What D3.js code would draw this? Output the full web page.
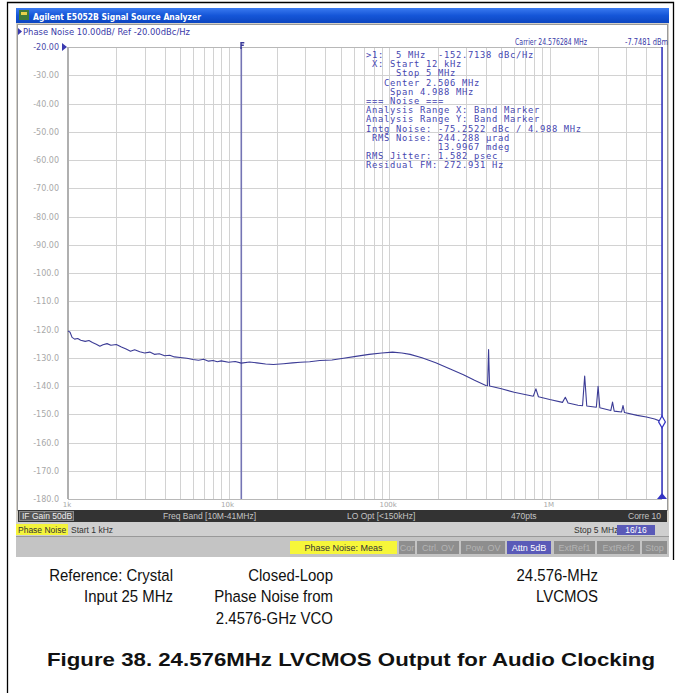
<!DOCTYPE html>
<html>
<head>
<meta charset="utf-8">
<script src="https://cdn.jsdelivr.net/npm/d3@7"></script>
<style>
body { margin: 0; background: #fff; }
svg { display: block; }
</style>
</head>
<body>
<svg id="chart" width="677" height="693"></svg>
<script>
// ---- data ----
var freqs = [1000, 1030, 1060, 1100, 1150, 1200, 1280, 1350, 1420, 1500, 1580, 1650, 1750, 1850, 2000,
  2150, 2300, 2450, 2600, 2800, 3000, 3230, 3450, 3700, 4000, 4300, 4600, 5000, 5500, 6000, 6500,
  7000, 7500, 8000, 8500, 9000, 10000, 11000, 12000, 13500, 15000, 17000, 19000, 22000, 25000,
  28000, 32000, 37000, 44000, 52000, 62000, 75000, 90000, 105000, 120000, 135000, 160000, 195000,
  240000, 290000, 340000, 400000, 410000, 416000, 422000, 500000, 600000, 700000, 790000, 820000,
  850000, 1000000, 1200000, 1250000, 1300000, 1500000, 1600000, 1650000, 1700000, 1950000, 2000000,
  2050000, 2400000, 2460000, 2520000, 2800000, 2860000, 2920000, 3500000, 4000000, 4500000, 5000000];
var noise = [-120.5, -121.0, -122.8, -123.4, -123.2, -123.8, -124.2, -123.9, -124.6, -125.2, -125.9, -125.4, -125.0, -125.6, -125.3,
  -126.2, -126.9, -127.7, -127.2, -127.9, -128.3, -128.0, -128.8, -128.6, -129.3, -129.1, -129.7, -129.9, -130.2, -130.6, -130.9,
  -130.5, -131.2, -131.0, -131.4, -131.1, -131.6, -131.3, -131.9, -131.5, -131.8, -132.2, -132.4, -132.1, -131.8,
  -131.6, -131.4, -131.0, -130.8, -130.2, -129.5, -128.8, -128.3, -128.0, -128.3, -128.8, -130.0, -131.8,
  -134.0, -136.0, -138.0, -139.8, -139.9, -127.1, -140.0, -141.0, -142.2, -143.0, -143.6, -141.0,
  -143.8, -144.8, -145.8, -144.0, -146.0, -146.8, -147.0, -136.5, -147.1, -147.5, -140.1,
  -147.7, -148.7, -145.7, -148.9, -149.2, -146.9, -149.4, -150.4, -151.0, -151.7, -152.7];

var yTicks = [-20, -30, -40, -50, -60, -70, -80, -90, -100, -110, -120, -130, -140, -150, -160, -170, -180];
var yTickLabels = ["-20.00", "-30.00", "-40.00", "-50.00", "-60.00", "-70.00", "-80.00", "-90.00",
  "-100.0", "-110.0", "-120.0", "-130.0", "-140.0", "-150.0", "-160.0", "-170.0", "-180.0"];
var xTicks = [1e3, 1e4, 1e5, 1e6];
var xTickLabels = ["1k", "10k", "100k", "1M"];

var bandStart = 12e3, bandStop = 5e6;
var markerFreq = 5e6, markerValue = -152.7138;

var markerText = [
  ">1:  5 MHz  -152.7138 dBc/Hz",
  " X: Start 12 kHz",
  "     Stop 5 MHz",
  "   Center 2.506 MHz",
  "    Span 4.988 MHz",
  "=== Noise ===",
  "Analysis Range X: Band Marker",
  "Analysis Range Y: Band Marker",
  "Intg Noise: -75.2522 dBc / 4.988 MHz",
  " RMS Noise: 244.288 \u00b5rad",
  "            13.9967 mdeg",
  "RMS Jitter: 1.582 psec",
  "Residual FM: 272.931 Hz"
];

var captionRef = ["Reference: Crystal", "Input 25 MHz"];
var captionLoop = ["Closed-Loop", "Phase Noise from", "2.4576-GHz VCO"];
var captionOut = ["24.576-MHz", "LVCMOS"];
var figureTitle = "Figure 38. 24.576MHz LVCMOS Output for Audio Clocking";

// ---- drawing ----
var svg = d3.select("#chart");
var plotL = 68, plotR = 662, plotT = 47, plotB = 499;

var x = d3.scaleLog().domain([1e3, 5e6]).range([plotL, plotR]);
var y = d3.scaleLinear().domain([-20, -180]).range([plotT, plotB]);

// outer figure box
svg.append("path")
  .attr("d", "M7.5,693 V2.5 H673.5 V560")
  .attr("fill", "none").attr("stroke", "#000").attr("stroke-width", 1.3);

// analyzer window
svg.append("rect").attr("x", 16).attr("y", 8).attr("width", 653).attr("height", 549).attr("fill", "#d4d0c8");
var grad = svg.append("defs").append("linearGradient").attr("id", "tb").attr("x1", 0).attr("y1", 0).attr("x2", 0).attr("y2", 1);
grad.append("stop").attr("offset", 0).attr("stop-color", "#3a7af0");
grad.append("stop").attr("offset", 0.5).attr("stop-color", "#1556d8");
grad.append("stop").attr("offset", 1).attr("stop-color", "#0c45c0");
svg.append("rect").attr("x", 16).attr("y", 8).attr("width", 653).attr("height", 15).attr("fill", "url(#tb)");
svg.append("rect").attr("x", 19).attr("y", 10).attr("width", 10).attr("height", 10).attr("fill", "#3f7a3a");
svg.append("rect").attr("x", 21).attr("y", 12).attr("width", 6).attr("height", 3).attr("fill", "#e8d04a");
svg.append("text").attr("x", 33).attr("y", 19.5)
  .attr("font-family", "DejaVu Sans, sans-serif").attr("font-weight", "bold").attr("font-size", 9.5)
  .attr("fill", "#fff").attr("textLength", 168).attr("lengthAdjust", "spacingAndGlyphs")
  .text("Agilent E5052B Signal Source Analyzer");

// white display panel
svg.append("rect").attr("x", 17.5).attr("y", 24.5).attr("width", 650).attr("height", 486)
  .attr("fill", "#fff").attr("stroke", "#9a9a9a").attr("stroke-width", 1);

svg.append("path").attr("d", "M18,28 L22,31.5 L18,35 Z").attr("fill", "#3a3ab0");
svg.append("text").attr("x", 23).attr("y", 35)
  .attr("font-family", "DejaVu Sans, sans-serif").attr("font-size", 8.5).attr("fill", "#3a3aa8")
  .attr("textLength", 167).attr("lengthAdjust", "spacingAndGlyphs")
  .text("Phase Noise 10.00dB/ Ref -20.00dBc/Hz");

// grid
var g = svg.append("g");
g.selectAll(".vg").data(x.ticks().filter(function(d) { return d > 1e3 && d < 5e6; }))
  .enter().append("line")
  .attr("x1", function(d) { return Math.round(x(d)) + 0.5; })
  .attr("x2", function(d) { return Math.round(x(d)) + 0.5; })
  .attr("y1", plotT).attr("y2", plotB)
  .attr("stroke", "#d2d2d2").attr("stroke-width", 1);
g.selectAll(".hg").data(yTicks)
  .enter().append("line")
  .attr("x1", plotL).attr("x2", plotR)
  .attr("y1", function(d) { return Math.round(y(d)) + 0.5; })
  .attr("y2", function(d) { return Math.round(y(d)) + 0.5; })
  .attr("stroke", function(d, i) { return (i === 0 || i === yTicks.length - 1) ? "#b8b8b8" : "#d2d2d2"; })
  .attr("stroke-width", 1);
g.append("line").attr("x1", plotL).attr("x2", plotL).attr("y1", plotT).attr("y2", plotB)
  .attr("stroke", "#b0b0b0").attr("stroke-width", 2);
g.append("line").attr("x1", plotR + 0.5).attr("x2", plotR + 0.5).attr("y1", plotT).attr("y2", plotB)
  .attr("stroke", "#b8b8b8").attr("stroke-width", 1);

// y labels
g.selectAll(".yl").data(yTicks)
  .enter().append("text")
  .attr("x", 59).attr("y", function(d) { return y(d) + 3; })
  .attr("text-anchor", "end")
  .attr("font-family", "DejaVu Sans, sans-serif").attr("font-size", 8)
  .attr("fill", function(d, i) { return i === 0 ? "#4a4aa8" : "#a8a8a8"; })
  .text(function(d, i) { return yTickLabels[i]; });
svg.append("path").attr("d", "M62," + (plotT - 4) + " L67," + plotT + " L62," + (plotT + 4) + " Z").attr("fill", "#3a3ab0");

// x labels
g.selectAll(".xl").data(xTicks)
  .enter().append("text")
  .attr("x", function(d) { return x(d) - 1; }).attr("y", plotB + 8)
  .attr("text-anchor", "middle")
  .attr("font-family", "DejaVu Sans, sans-serif").attr("font-size", 7)
  .attr("fill", "#a8a8a8")
  .text(function(d, i) { return xTickLabels[i]; });

// band marker at start frequency
var xs = x(bandStart);
svg.append("line").attr("x1", xs).attr("x2", xs).attr("y1", plotT).attr("y2", plotB)
  .attr("stroke", "#7474b4").attr("stroke-width", 1.6);
svg.append("path").attr("d", "M" + (xs - 1) + "," + (plotT - 5) + " h4 v1.5 h-2.5 v1 h2 v1.5 h-2 v3 h-1.5 Z")
  .attr("fill", "#3a3a9a");

// carrier readout
svg.append("text").attr("x", 515).attr("y", 45)
  .attr("font-family", "DejaVu Sans, sans-serif").attr("font-size", 8).attr("fill", "#3a3aa8")
  .attr("textLength", 72).attr("lengthAdjust", "spacingAndGlyphs")
  .text("Carrier 24.576284 MHz");
svg.append("text").attr("x", 625).attr("y", 45)
  .attr("font-family", "DejaVu Sans, sans-serif").attr("font-size", 8).attr("fill", "#3a3aa8")
  .attr("textLength", 43).attr("lengthAdjust", "spacingAndGlyphs")
  .text("-7.7481 dBm");

// trace
var pts = freqs.map(function(f, i) { return [f, noise[i]]; });
var line = d3.line()
  .x(function(d) { return x(d[0]); })
  .y(function(d) { return y(d[1]); });
svg.append("path").datum(pts)
  .attr("d", line)
  .attr("fill", "none").attr("stroke", "#3c3c96").attr("stroke-width", 1.1)
  .attr("stroke-linejoin", "round");

// stop marker + marker 1
var xe = x(bandStop);
svg.append("line").attr("x1", xe).attr("x2", xe).attr("y1", plotT).attr("y2", plotB)
  .attr("stroke", "#3434c4").attr("stroke-width", 1.5);
svg.append("path").attr("d", "M" + (xe - 5) + "," + plotB + " L" + (xe + 5) + "," + plotB + " L" + xe + "," + (plotB - 6) + " Z")
  .attr("fill", "#3434c4");
svg.append("path")
  .attr("transform", "translate(" + x(markerFreq) + "," + y(markerValue) + ")")
  .attr("d", d3.symbol().type(d3.symbolDiamond).size(40))
  .attr("fill", "#fff").attr("stroke", "#3434c4").attr("stroke-width", 1.2);

// marker / noise readout block
svg.append("g").selectAll("text").data(markerText)
  .enter().append("text")
  .attr("x", 366).attr("y", function(d, i) { return 58 + i * 9.2; })
  .attr("xml:space", "preserve").style("white-space", "pre")
  .attr("font-family", "DejaVu Sans Mono, monospace").attr("font-size", 8.8)
  .attr("letter-spacing", 0.7)
  .attr("fill", "#4646b0")
  .text(function(d) { return d; });

// dark info bar
svg.append("rect").attr("x", 18).attr("y", 510).attr("width", 649).attr("height", 12).attr("fill", "#333");
svg.append("rect").attr("x", 19.5).attr("y", 511.5).attr("width", 54).attr("height", 9).attr("fill", "#555").attr("stroke", "#888");
var infoBar = [["IF Gain 50dB", 22], ["Freq Band [10M-41MHz]", 163], ["LO Opt [<150kHz]", 347], ["470pts", 511], ["Corre 10", 628]];
svg.selectAll(".ib").data(infoBar).enter().append("text")
  .attr("x", function(d) { return d[1]; }).attr("y", 519)
  .attr("font-family", "Liberation Sans, sans-serif").attr("font-size", 8.5)
  .attr("fill", function(d, i) { return i === 0 ? "#eee" : "#c4c4c4"; })
  .text(function(d) { return d[0]; });

// status bar
svg.append("rect").attr("x", 16).attr("y", 522).attr("width", 653).attr("height", 14).attr("fill", "#cfcfcf");
svg.append("rect").attr("x", 16).attr("y", 524).attr("width", 52).attr("height", 11).attr("fill", "#f4f43a");
svg.append("text").attr("x", 18).attr("y", 532.5).attr("font-family", "Liberation Sans, sans-serif")
  .attr("font-size", 8.5).attr("fill", "#333").text("Phase Noise");
svg.append("text").attr("x", 71).attr("y", 532.5).attr("font-family", "Liberation Sans, sans-serif")
  .attr("font-size", 8.5).attr("fill", "#333").text("Start 1 kHz");
svg.append("text").attr("x", 574).attr("y", 532.5).attr("font-family", "Liberation Sans, sans-serif")
  .attr("font-size", 8.5).attr("fill", "#333").text("Stop 5 MHz");
svg.append("rect").attr("x", 617).attr("y", 525).attr("width", 38).attr("height", 10).attr("fill", "#5a5ab8");
svg.append("text").attr("x", 636).attr("y", 533).attr("text-anchor", "middle").attr("font-family", "Liberation Sans, sans-serif")
  .attr("font-size", 8.5).attr("fill", "#fff").text("16/16");
svg.append("line").attr("x1", 16).attr("x2", 669).attr("y1", 536.5).attr("y2", 536.5).attr("stroke", "#999");

// softkeys
svg.append("rect").attr("x", 16).attr("y", 537).attr("width", 653).attr("height", 20).attr("fill", "#c4c4c4");
var softkeys = [["Phase Noise: Meas", 290, 397, "#f6f63a", "#333"], ["Cor", 399, 415, "#8e8e8e", "#b4b4b4"],
  ["Ctrl. OV", 417, 459, "#8e8e8e", "#b4b4b4"], ["Pow. OV", 461, 505, "#8e8e8e", "#b4b4b4"],
  ["Attn 5dB", 507, 551, "#5a5ab8", "#fff"], ["ExtRef1", 554, 595, "#8e8e8e", "#b4b4b4"],
  ["ExtRef2", 597, 640, "#8e8e8e", "#b4b4b4"], ["Stop", 642, 667, "#8e8e8e", "#b4b4b4"]];
var sk = svg.selectAll(".sk").data(softkeys).enter().append("g");
sk.append("rect").attr("x", function(d) { return d[1]; }).attr("y", 541)
  .attr("width", function(d) { return d[2] - d[1]; }).attr("height", 13)
  .attr("fill", function(d) { return d[3]; });
sk.append("text").attr("x", function(d) { return (d[1] + d[2]) / 2; }).attr("y", 550.5)
  .attr("text-anchor", "middle").attr("font-family", "Liberation Sans, sans-serif").attr("font-size", 9)
  .attr("fill", function(d) { return d[4]; })
  .text(function(d) { return d[0]; });

// captions
function caption(lines, xr, y0) {
  svg.append("g").selectAll("text").data(lines).enter().append("text")
    .attr("x", xr).attr("y", function(d, i) { return y0 + i * 21.5; })
    .attr("text-anchor", "end")
    .attr("font-family", "Liberation Sans, Arial, sans-serif").attr("font-size", 17)
    .attr("fill", "#111")
    .attr("transform", "translate(" + xr + ",0) scale(0.88,1) translate(" + (-xr) + ",0)")
    .text(function(d) { return d; });
}
caption(captionRef, 173, 581);
caption(captionLoop, 333, 581);
caption(captionOut, 598, 581);

svg.append("text").attr("x", 47).attr("y", 666)
  .attr("font-family", "Liberation Sans, Arial, sans-serif").attr("font-size", 18).attr("font-weight", "bold")
  .attr("fill", "#111").attr("textLength", 608).attr("lengthAdjust", "spacingAndGlyphs")
  .text(figureTitle);
</script>
</body>
</html>
